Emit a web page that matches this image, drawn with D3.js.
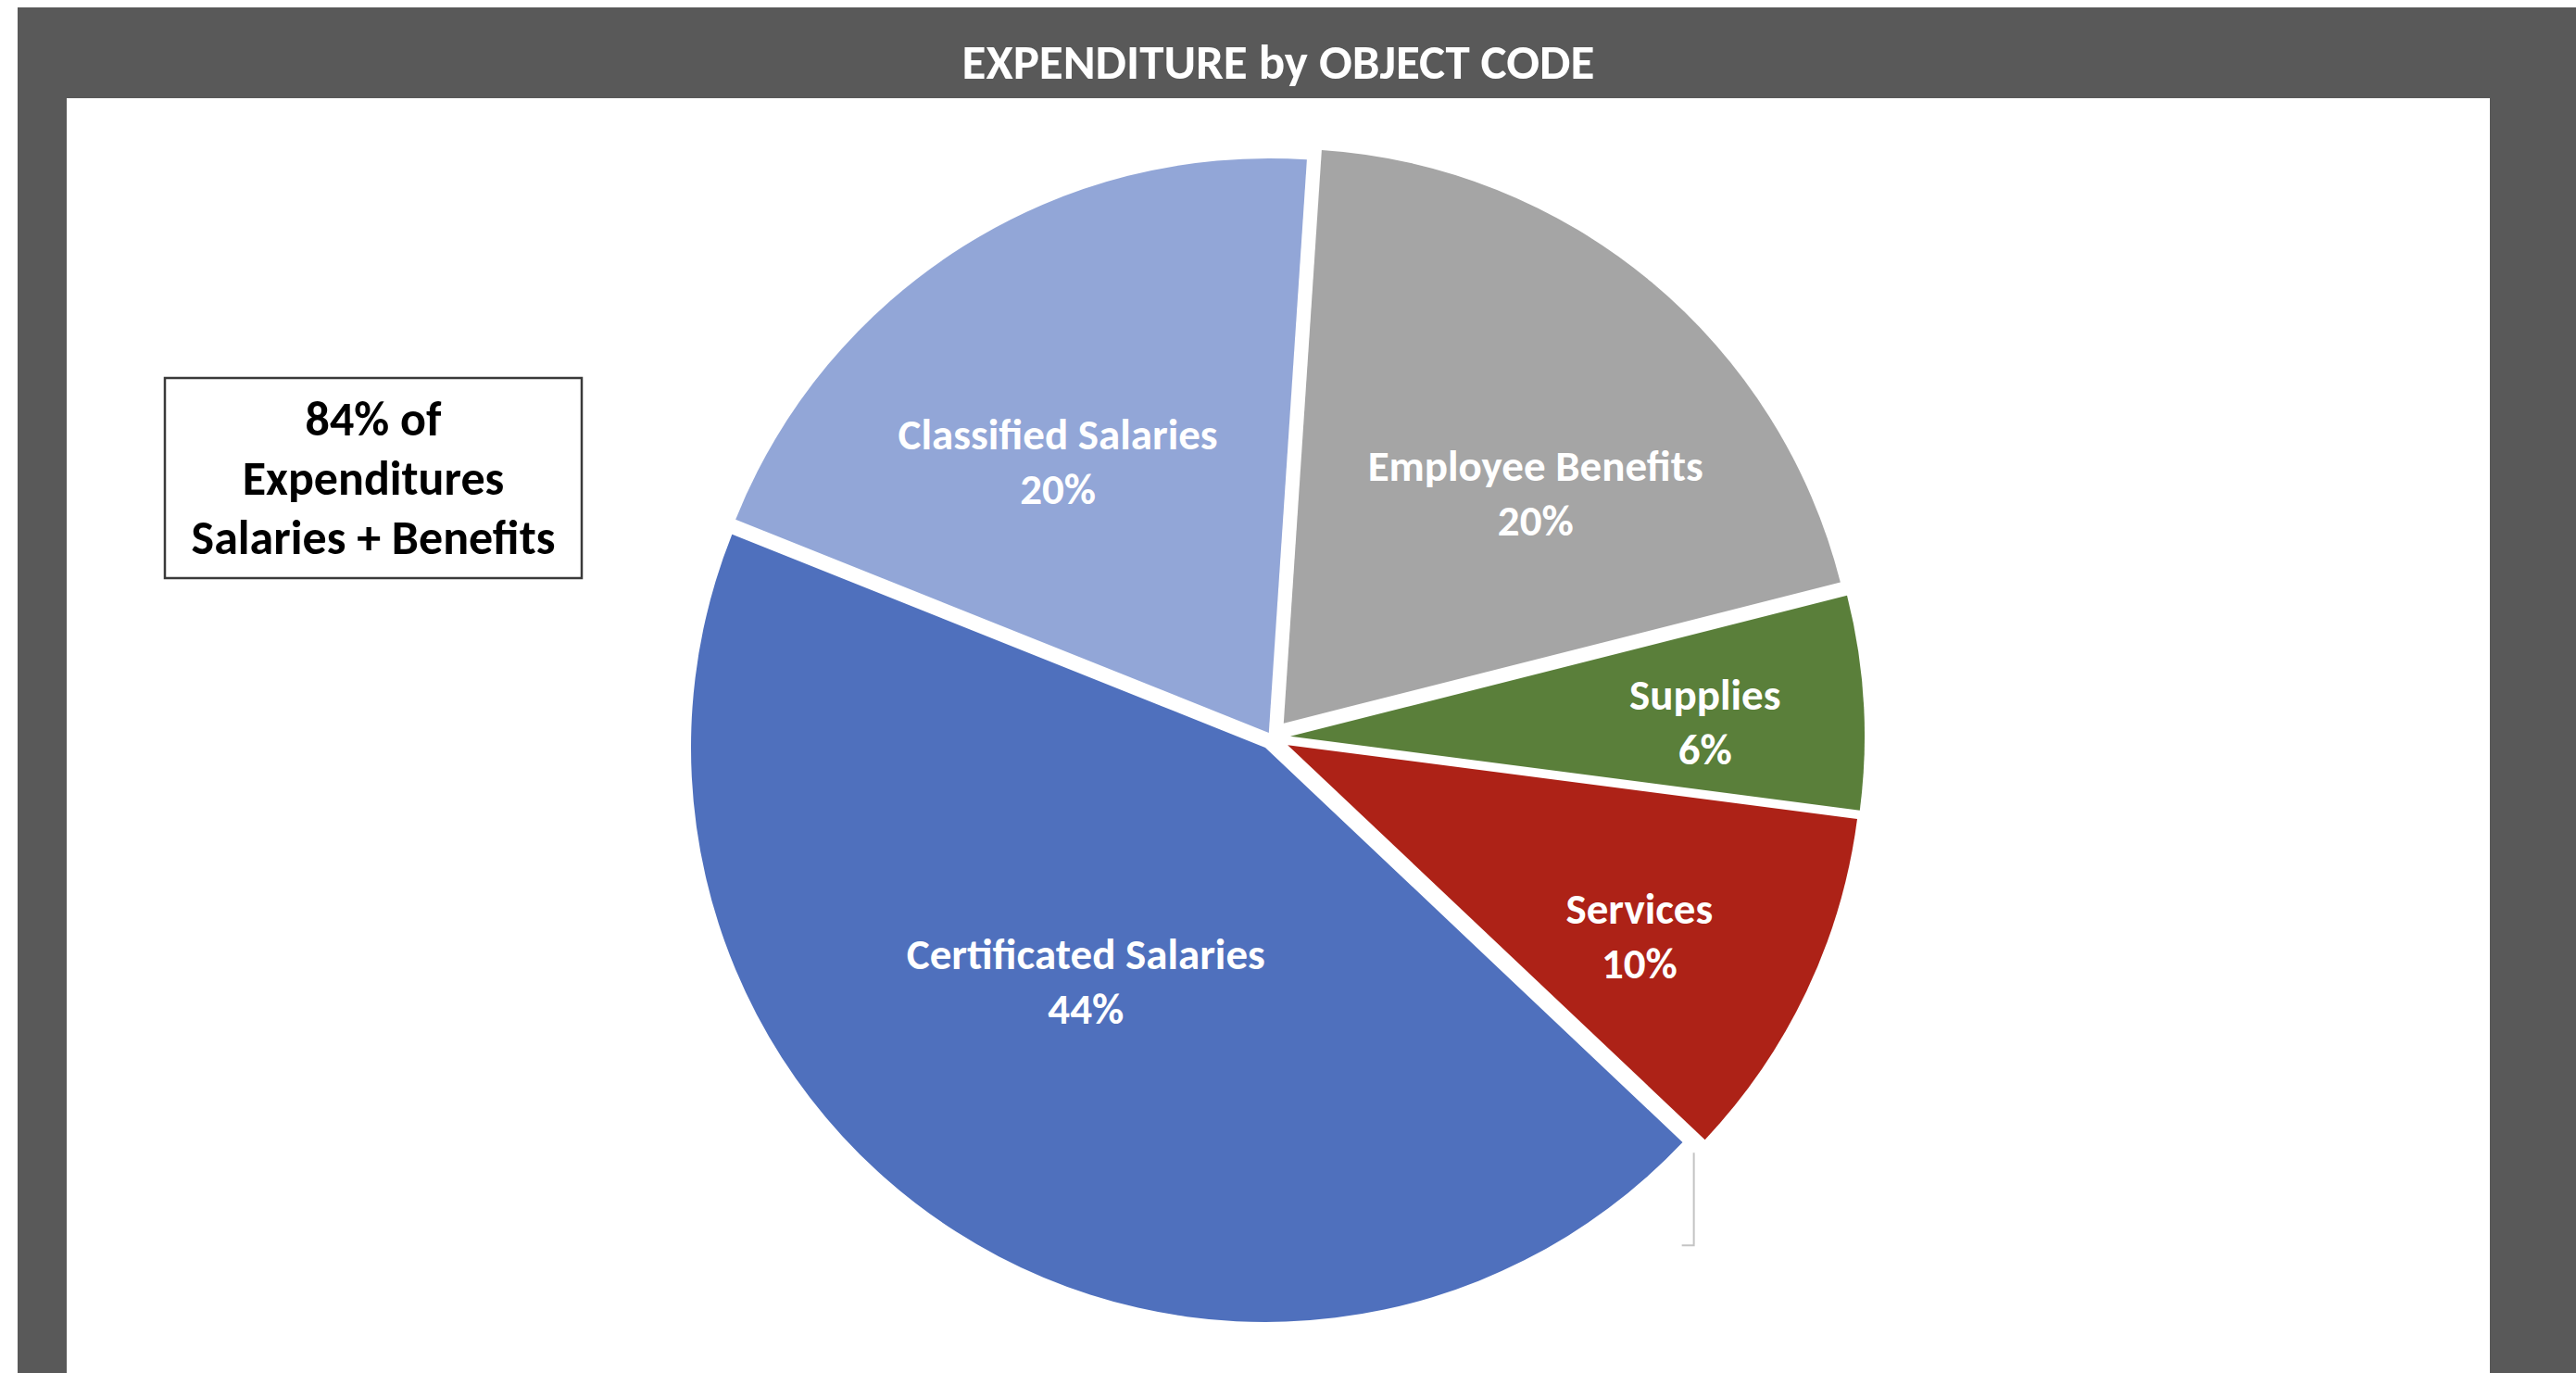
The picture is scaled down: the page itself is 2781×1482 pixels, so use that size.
<!DOCTYPE html>
<html>
<head>
<meta charset="utf-8">
<script src="https://cdn.jsdelivr.net/npm/d3@7"></script>
<style>
  html, body { margin: 0; padding: 0; background: #ffffff; overflow: hidden; }
  svg { display: block; }
</style>
</head>
<body>
<svg id="chart"></svg>
<script>
// ---- data ----
const categories = ["Employee Benefits", "Supplies", "Services", "Certificated Salaries", "Classified Salaries"];
const shares = [20, 6, 10, 44, 20];               // percent of total expenditure
const chartTitle = "EXPENDITURE by OBJECT CODE";
const noteLines = ["84% of", "Expenditures", "Salaries + Benefits"];

// ---- styling / layout ----
const W = 2781, H = 1482;
const fontStack = "Carlito, Lato, 'Open Sans', sans-serif";

const sliceFill = {
  "Employee Benefits":     "#a5a5a5",
  "Supplies":              "#5a7f3a",
  "Services":              "#ad2217",
  "Certificated Salaries": "#4f70bd",
  "Classified Salaries":   "#92a6d7"
};
const sliceEdge = {
  "Employee Benefits":     "#909090",
  "Supplies":              "#4e7033",
  "Services":              "#9a1f15",
  "Certificated Salaries": "#4765af",
  "Classified Salaries":   "#8394c6"
};
// how far each slice is pulled out from the centre (px)
const explode = {
  "Employee Benefits": 20, "Supplies": 20, "Services": 19,
  "Certificated Salaries": 13, "Classified Salaries": 6
};
// label placement: radius as fraction of R, angular nudge in degrees
const labelPlace = {
  "Employee Benefits":     { r: 0.627, da: 7.3 },
  "Supplies":              { r: 0.755, da: 1.3 },
  "Services":              { r: 0.727, da: 2.9 },
  "Certificated Salaries": { r: 0.533, da: 4.8 },
  "Classified Salaries":   { r: 0.609, da: -5.5 }
};

const cx = 1373, cy = 796, R = 620;
const startDeg = 3.8;
const labelSize = 47, lineGap = 59;

const svg = d3.select("#chart").attr("width", W).attr("height", H)
  .attr("viewBox", `0 0 ${W} ${H}`);

// frame: dark band with title, white plotting panel
svg.append("rect").attr("x", 19).attr("y", 8).attr("width", W - 19).attr("height", H - 8)
  .attr("fill", "#595959");
svg.append("rect").attr("x", 72).attr("y", 106).attr("width", 2688 - 72).attr("height", H - 106)
  .attr("fill", "#ffffff");

svg.append("text")
  .attr("x", 1380).attr("y", 85)
  .attr("text-anchor", "middle")
  .attr("fill", "#ffffff")
  .style("font-family", fontStack)
  .style("font-weight", 700)
  .style("font-size", "53px")
  .text(chartTitle);

// ---- pie ----
const rad = d => d * Math.PI / 180;
const pie = d3.pie().sort(null).value(d => d.value)
  .startAngle(rad(startDeg)).endAngle(rad(startDeg) + 2 * Math.PI);
const arc = d3.arc().innerRadius(0).outerRadius(R);

const rows = categories.map((c, i) => ({ name: c, value: shares[i] }));
const arcs = pie(rows);

const defs = svg.append("defs");
const pieG = svg.append("g").attr("transform", `translate(${cx},${cy})`);

arcs.forEach((a, i) => {
  const mid = (a.startAngle + a.endAngle) / 2;
  const e = explode[a.data.name];
  const dx = e * Math.sin(mid), dy = -e * Math.cos(mid);
  const g = pieG.append("g").attr("transform", `translate(${dx},${dy})`);
  const id = "slice-clip-" + i;
  defs.append("clipPath").attr("id", id)
    .append("path").attr("d", arc(a)).attr("transform", `translate(${cx + dx},${cy + dy})`);
  g.append("path").attr("d", arc(a)).attr("fill", sliceFill[a.data.name]);
  // inner edge band in a deeper tone of the slice colour
  g.append("path").attr("d", arc(a))
    .attr("fill", "none")
    .attr("stroke", sliceEdge[a.data.name])
    .attr("stroke-width", 10)
    .attr("stroke-linejoin", "miter")
    .attr("clip-path", `url(#${id})`);
});

// data labels
const pct = d3.format(".0%");
arcs.forEach(a => {
  const mid = (a.startAngle + a.endAngle) / 2;
  const lp = labelPlace[a.data.name];
  const ang = mid + rad(lp.da);
  const lx = lp.r * R * Math.sin(ang), ly = -lp.r * R * Math.cos(ang);
  const base = labelSize * 0.36;
  const t = pieG.append("text")
    .attr("text-anchor", "middle")
    .attr("fill", "#ffffff")
    .style("font-family", fontStack)
    .style("font-weight", 700)
    .style("font-size", labelSize + "px");
  t.append("tspan").attr("x", lx).attr("y", ly - lineGap / 2 + base).text(a.data.name);
  t.append("tspan").attr("x", lx).attr("y", ly + lineGap / 2 + base).text(pct(a.data.value / 100));
});

// thin leader line hanging below the Services slice corner
(() => {
  const a = arcs.find(d => d.data.name === "Services");
  const mid = (a.startAngle + a.endAngle) / 2;
  const e = explode["Services"];
  const tipX = e * Math.sin(mid) + R * Math.sin(a.endAngle);
  const tipY = -e * Math.cos(mid) - R * Math.cos(a.endAngle);
  const x0 = tipX - 12, y0 = tipY + 14;
  pieG.append("path")
    .attr("d", `M${x0},${y0}V${y0 + 100}H${x0 - 13}`)
    .attr("fill", "none").attr("stroke", "#c4c4c4").attr("stroke-width", 2);
})();

// ---- call-out box ----
const box = svg.append("g");
box.append("rect").attr("x", 178).attr("y", 408).attr("width", 450).attr("height", 216)
  .attr("fill", "#ffffff").attr("stroke", "#3a3a3a").attr("stroke-width", 2.5);
const boxText = box.append("text")
  .attr("text-anchor", "middle").attr("fill", "#000000")
  .style("font-family", fontStack).style("font-weight", 700).style("font-size", "52px");
noteLines.forEach((s, i) => {
  boxText.append("tspan").attr("x", 403).attr("y", 470 + i * 64).text(s);
});
</script>
</body>
</html>
